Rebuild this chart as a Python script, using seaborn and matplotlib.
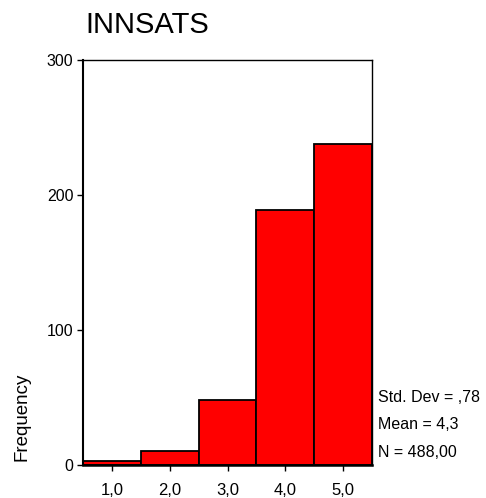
import matplotlib
matplotlib.use("Agg")
import matplotlib.pyplot as plt
import seaborn as sns
import numpy as np

# values
categories = [1, 2, 3, 4, 5]
counts = [3, 10, 48, 189, 238]
xtick_labels = ["1,0", "2,0", "3,0", "4,0", "5,0"]
yticks = [0, 100, 200, 300]
stats_lines = ["Std. Dev = ,78", "Mean = 4,3", "N = 488,00"]

sns.set_style("white")
plt.rcParams['font.family'] = ['Liberation Sans', 'DejaVu Sans']
plt.rcParams['text.color'] = 'black'
plt.rcParams['xtick.color'] = 'black'
plt.rcParams['ytick.color'] = 'black'
plt.rcParams['axes.labelcolor'] = 'black'

fig = plt.figure(figsize=(4.86, 4.98), dpi=100)
ax = fig.add_axes([0.1708, 0.0663, 0.5947, 0.8133])

sns.histplot(x=categories, weights=counts, discrete=True, color="#ff0000",
             edgecolor="black", linewidth=1.3, alpha=1, ax=ax)

ax.set_xlim(0.5, 5.5)
ax.set_ylim(0, 300)
ax.set_xticks(categories)
ax.set_xticklabels(xtick_labels, fontsize=12)
ax.set_yticks(yticks)
ax.set_yticklabels([str(v) for v in yticks], fontsize=11.5)
ax.tick_params(axis="both", direction="out", length=4, width=1,
               bottom=True, left=True, pad=3)
ax.tick_params(axis="x", pad=9)
ax.set_xlabel("")
ax.set_ylabel("")
for s in ax.spines.values():
    s.set_visible(True)
    s.set_color("black")
    s.set_linewidth(1)
ax.spines["bottom"].set_linewidth(1.8)
ax.spines["left"].set_linewidth(1.5)

fig.text(85 / 486, 1 - 25 / 498, "INNSATS", fontsize=21, ha="left", va="center")
fig.text(22 / 486, 1 - 417 / 498, "Frequency", fontsize=13.5, rotation=90,
         ha="center", va="center")
for i, line in enumerate(stats_lines):
    fig.text(378 / 486, 1 - (397 + 27.5 * i) / 498, line, fontsize=11.5,
             ha="left", va="center")

fig.savefig("out.png", dpi=100)
